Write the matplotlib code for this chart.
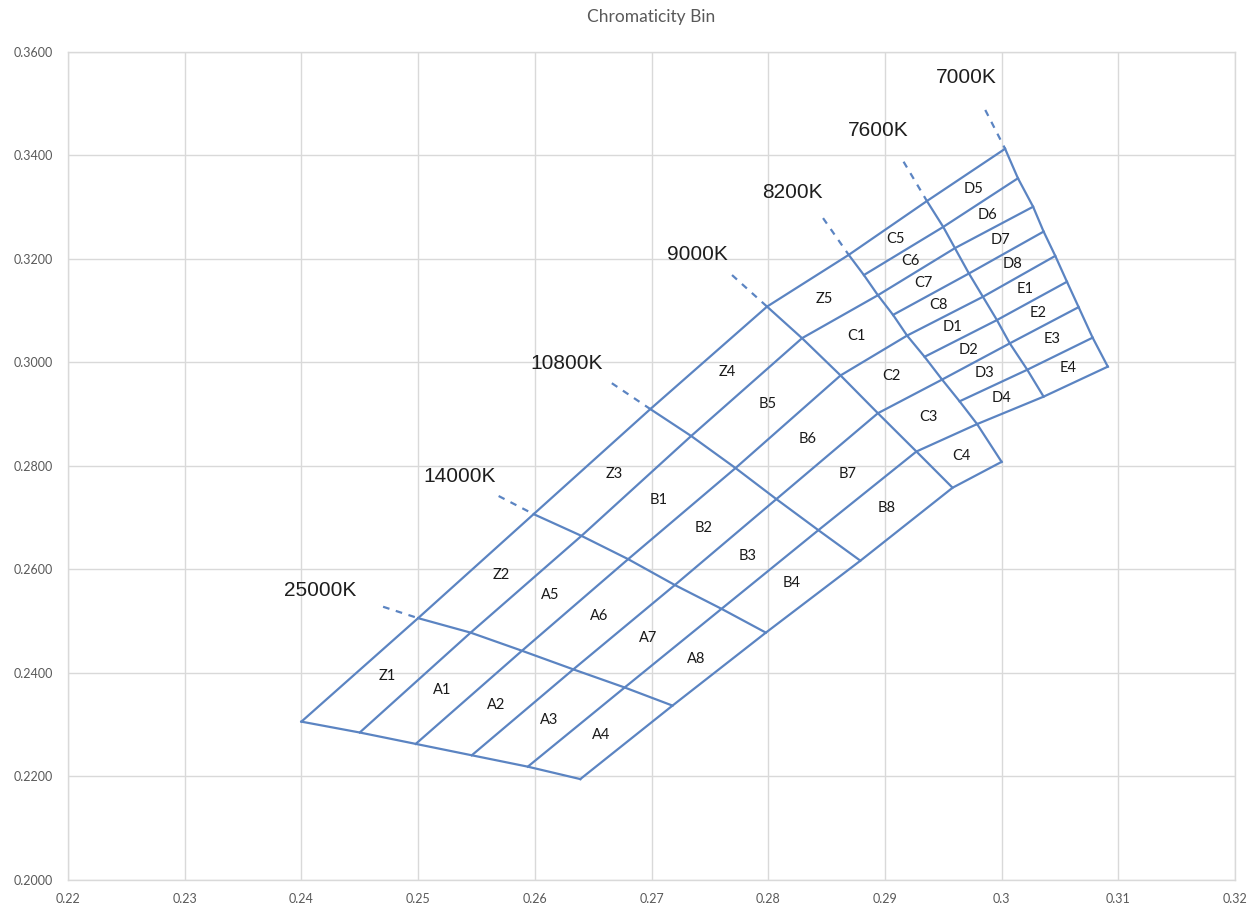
import matplotlib
matplotlib.use('Agg')
import matplotlib.pyplot as plt
import numpy as np

# Isotherm lines (upper-left -> lower-right), vertices where the bin rows cross them
cct_names = ['25000K', '14000K', '10800K', '9000K', '8200K', '7600K', '7000K']

# left block: bottom edge, 25000K, 14000K, 10800K, 9000K, 8200K  (6 row lines)
left_x = [
    [0.2400, 0.2450, 0.2498, 0.2546, 0.2594, 0.2639],
    [0.2500, 0.2545, 0.2589, 0.2633, 0.2677, 0.2718],
    [0.2599, 0.2640, 0.2680, 0.2720, 0.2760, 0.2798],
    [0.2699, 0.2734, 0.2772, 0.2807, 0.2843, 0.2879],
    [0.2799, 0.2829, 0.2862, 0.2894, 0.2927, 0.2958],
    [0.2869, 0.2894, 0.2919, 0.2949, 0.2979, 0.3000],
]
left_y = [
    [0.2306, 0.2285, 0.2263, 0.2241, 0.2219, 0.2195],
    [0.2506, 0.2478, 0.2443, 0.2407, 0.2372, 0.2337],
    [0.2707, 0.2665, 0.2620, 0.2570, 0.2524, 0.2478],
    [0.2910, 0.2858, 0.2796, 0.2736, 0.2676, 0.2617],
    [0.3108, 0.3047, 0.2975, 0.2902, 0.2828, 0.2758],
    [0.3208, 0.3130, 0.3052, 0.2967, 0.2881, 0.2808],
]

# right block: 8200K, 7600K, 7000K  (9 row lines)
right_x = [
    [0.2869, 0.2882, 0.2894, 0.2907, 0.2919, 0.2934, 0.2949, 0.2964, 0.2979],
    [0.2936, 0.2950, 0.2960, 0.2972, 0.2984, 0.2996, 0.3007, 0.3022, 0.3036],
    [0.3003, 0.3014, 0.3027, 0.3036, 0.3046, 0.3056, 0.3066, 0.3078, 0.3091],
]
right_y = [
    [0.3208, 0.3169, 0.3130, 0.3092, 0.3052, 0.3011, 0.2967, 0.2925, 0.2881],
    [0.3312, 0.3262, 0.3221, 0.3172, 0.3127, 0.3082, 0.3037, 0.2986, 0.2934],
    [0.3413, 0.3356, 0.3301, 0.3253, 0.3206, 0.3156, 0.3107, 0.3048, 0.2992],
]

left_bins = [['Z1', 'A1', 'A2', 'A3', 'A4'],
             ['Z2', 'A5', 'A6', 'A7', 'A8'],
             ['Z3', 'B1', 'B2', 'B3', 'B4'],
             ['Z4', 'B5', 'B6', 'B7', 'B8'],
             ['Z5', 'C1', 'C2', 'C3', 'C4']]
right_bins = [['C5', 'C6', 'C7', 'C8', 'D1', 'D2', 'D3', 'D4'],
              ['D5', 'D6', 'D7', 'D8', 'E1', 'E2', 'E3', 'E4']]

# dashed isotherm extensions (start points) and CCT label anchors
dash_x = [0.2470, 0.2569, 0.2666, 0.2769, 0.2847, 0.2916, 0.2986]
dash_y = [0.2528, 0.2742, 0.2960, 0.3169, 0.3279, 0.3388, 0.3488]
lab_x = [0.2416, 0.2536, 0.2627, 0.2739, 0.2821, 0.2894, 0.2970]
lab_y = [0.2560, 0.2779, 0.2998, 0.3208, 0.3328, 0.3449, 0.3550]

xticks = np.round(np.arange(0.22, 0.3201, 0.01), 2)
yticks = np.round(np.arange(0.20, 0.3601, 0.02), 2)

blue = '#5b84c2'
lw = 1.6

fig = plt.figure(figsize=(12.55, 9.13), dpi=100)
ax = fig.add_axes([68/1255, 33/913, 1167/1255, 828/913])

# isotherms
for i in range(5):
    ax.plot(left_x[i], left_y[i], color=blue, lw=lw)
x8200 = right_x[0] + [left_x[5][5]]
y8200 = right_y[0] + [left_y[5][5]]
ax.plot(x8200, y8200, color=blue, lw=lw)
for j in (1, 2):
    ax.plot(right_x[j], right_y[j], color=blue, lw=lw)

# row lines
for k in range(6):
    ax.plot([c[k] for c in left_x], [c[k] for c in left_y], color=blue, lw=lw)
for k in range(9):
    ax.plot([c[k] for c in right_x], [c[k] for c in right_y], color=blue, lw=lw)

# dashed extensions + labels
tops_x = [left_x[i][0] for i in range(1, 5)] + [right_x[j][0] for j in range(3)]
tops_y = [left_y[i][0] for i in range(1, 5)] + [right_y[j][0] for j in range(3)]
for n in range(7):
    ax.plot([dash_x[n], tops_x[n]], [dash_y[n], tops_y[n]], color=blue, lw=lw,
            linestyle=(0, (3, 3)))
    ax.text(lab_x[n], lab_y[n], cct_names[n], ha='center', va='center',
            fontsize=15, family='Liberation Sans', color='#1e1e1e')

# bin labels at cell centres
def cell_label(xs, ys, names, rows):
    for c in range(len(names)):
        for r in range(rows):
            cx = np.mean([xs[c][r], xs[c][r+1], xs[c+1][r], xs[c+1][r+1]])
            cy = np.mean([ys[c][r], ys[c][r+1], ys[c+1][r], ys[c+1][r+1]])
            ax.text(cx, cy, names[c][r], ha='center', va='center',
                    fontsize=10.5, family='Lato', color='#1a1a1a')

cell_label(left_x, left_y, left_bins, 5)
cell_label(right_x, right_y, right_bins, 8)

ax.set_xlim(0.22, 0.32)
ax.set_ylim(0.20, 0.36)
ax.set_xticks(xticks)
ax.set_yticks(yticks)
ax.set_xticklabels([f'{v:g}' for v in xticks])
ax.set_yticklabels([f'{v:.4f}' for v in yticks])
ax.tick_params(length=0, labelsize=9, labelcolor='#595959')
ax.tick_params(axis='y', pad=11)
ax.tick_params(axis='x', pad=9)
for lab in ax.get_xticklabels() + ax.get_yticklabels():
    lab.set_family('Lato')
ax.grid(True, color='#d9d9d9', lw=1)
ax.set_axisbelow(True)
for s in ax.spines.values():
    s.set_color('#d9d9d9')
    s.set_linewidth(1)

fig.text(651/1255, 1 - 17/913, 'Chromaticity Bin', ha='center', va='center',
         fontsize=12.5, family='Lato', color='#595959')

plt.savefig('out.png', dpi=100)
